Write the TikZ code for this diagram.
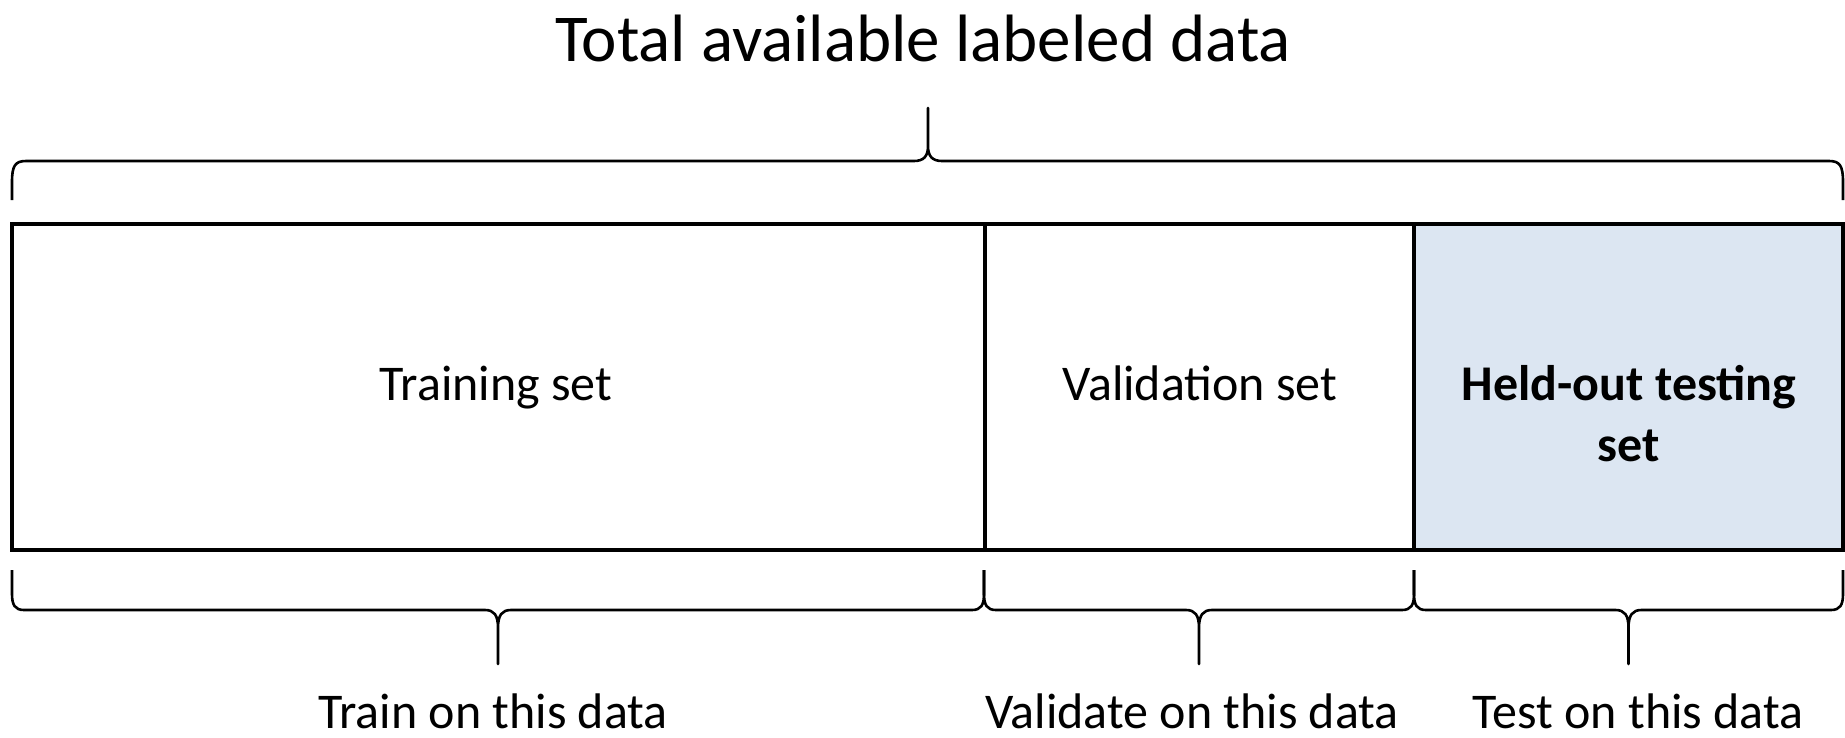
\documentclass[tikz,border=0pt]{standalone}
\usepackage{fontspec}
\setmainfont{Carlito}
\definecolor{heldblue}{HTML}{DCE6F2}
\begin{document}
\begin{tikzpicture}[x=1pt,y=-1pt,
  boxline/.style={line width=3.6pt},
  braceline/.style={line width=2.6pt, line join=round},
  lbl/.style={font=\fontsize{50}{61}\selectfont, anchor=base, inner sep=0pt},
  ttl/.style={font=\fontsize{67}{80}\selectfont, anchor=base, inner sep=0pt}]
\useasboundingbox (0,0) rectangle (1845,737);
% boxes
\fill[heldblue] (1414,224) rectangle (1843,550);
\draw[boxline] (12,224) rectangle (1843,550);
\draw[boxline] (985,224) -- (985,550);
\draw[boxline] (1414,224) -- (1414,550);
% texts
\node[ttl] (title) at (923,61) {Total available labeled data};
\node[lbl] (train) at (496,400) {Training set};
\node[lbl] (val) at (1200,400) {Validation set};
\node[lbl, font=\fontsize{50}{61}\selectfont\bfseries, align=center] (held) at (1629,461) {Held-out testing\\set};
\node[lbl] (trainlbl) at (493,728) {Train on this data};
\node[lbl] (vallbl) at (1192,728) {Validate on this data};
\node[lbl] (testlbl) at (1638,728) {Test on this data};
% top brace
\draw[braceline] (12,200) -- (12,182) .. controls (12,166) and (15,161) .. (26,161)
  -- (914,161) .. controls (924,161) and (928,156) .. (928,146) -- (928,108)
  -- (928,146) .. controls (928,156) and (932,161) .. (942,161)
  -- (1829,161) .. controls (1840,161) and (1843,166) .. (1843,182) -- (1843,200);
% bottom braces
\foreach \a/\b in {12/984, 984/1414, 1414/1843} {
  \pgfmathsetmacro{\m}{(\a+\b)/2}
  \draw[braceline] (\a,570) -- (\a,594) .. controls (\a,605) and (\a+3,610) .. (\a+12,610)
    -- (\m-13,610) .. controls (\m-4,610) and (\m,615) .. (\m,628) -- (\m,664)
    -- (\m,628) .. controls (\m,615) and (\m+4,610) .. (\m+13,610)
    -- (\b-12,610) .. controls (\b-3,610) and (\b,605) .. (\b,594) -- (\b,570);
}
\end{tikzpicture}
\end{document}
